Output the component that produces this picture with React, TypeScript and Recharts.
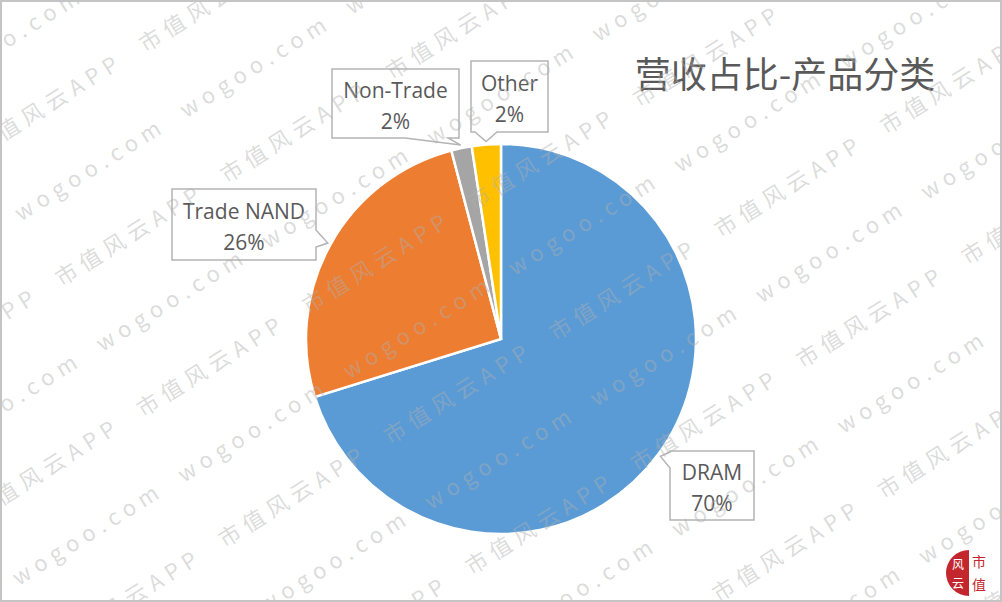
import React from "react";
import { PieChart, Pie, Cell } from "recharts";

// revenue share by product line (%)
const categories = ["DRAM", "Trade NAND", "Non-Trade", "Other"];
const shares = [70.2, 25.7, 1.7, 2.4];
const colors = ["#5B9BD5", "#ED7D31", "#A5A5A5", "#FFC000"];

const title = "营收占比-产品分类";
const watermarkTexts = ["wogoo.com", "市值风云APP"];

const W = 1002;
const H = 602;
const RADIAN = Math.PI / 180;

// callout boxes, offsets relative to the pie centre
const callouts = [
    { left: 169, top: 112, w: 84, h: 69, edge: "left", a: 1, b: 17 },
    { left: -329, top: -150, w: 144, h: 71, edge: "right", a: 41, b: 58 },
    { left: -169, top: -270, w: 127, h: 69, edge: "bottom", a: 73, b: 116 },
    { left: -30, top: -278, w: 77, h: 71, edge: "bottom", a: 4, b: 26 },
];

const data = categories.map((name, i) => ({ name, value: shares[i] }));

function calloutPath(x: number, y: number, w: number, h: number, edge: string, a: number, b: number, tx: number, ty: number) {
    const p: number[][] = [[x, y]];
    if (edge === "top") p.push([x + a, y], [tx, ty], [x + b, y]);
    p.push([x + w, y]);
    if (edge === "right") p.push([x + w, y + a], [tx, ty], [x + w, y + b]);
    p.push([x + w, y + h]);
    if (edge === "bottom") p.push([x + b, y + h], [tx, ty], [x + a, y + h]);
    p.push([x, y + h]);
    if (edge === "left") p.push([x, y + b], [tx, ty], [x, y + a]);
    return "M" + p.map((q) => q.join(",")).join("L") + "Z";
}

function renderCallout(props: any) {
    const { cx, cy, midAngle, outerRadius, index, percent, name } = props;
    const c = callouts[index];
    const r = outerRadius + 3;
    const tx = cx + r * Math.cos(-midAngle * RADIAN);
    const ty = cy + r * Math.sin(-midAngle * RADIAN);
    const x = cx + c.left;
    const y = cy + c.top;
    const mid = x + c.w / 2;
    const yc = y + c.h / 2;
    return (
        <g key={`lbl-${index}`}>
            <path
                d={calloutPath(x, y, c.w, c.h, c.edge, c.a, c.b, tx, ty)}
                fill="#fff"
                stroke="#b4b4b4"
                strokeWidth={1.5}
            />
            <text
                x={mid}
                y={yc - 6}
                textAnchor="middle"
                fill="#595959"
                fontSize={21}
                fontFamily="'Open Sans', 'Noto Sans', sans-serif"
            >
                {name}
            </text>
            <text
                x={mid}
                y={yc + 25}
                textAnchor="middle"
                fill="#595959"
                fontSize={21}
                fontFamily="'Open Sans', 'Noto Sans', sans-serif"
            >
                {Math.round(percent * 100)}%
            </text>
        </g>
    );
}

function Watermark() {
    const rows = [];
    for (let k = -1; k <= 14; k++) {
        const v = 35 + 77 * k;
        const txt = watermarkTexts[((k % 2) + 2) % 2];
        for (let m = -3; m <= 5; m++) {
            rows.push(
                <text
                    key={`${k}-${m}`}
                    x={95 + 195 * m}
                    y={v}
                    dominantBaseline="central"
                    fontSize={22}
                    letterSpacing={6}
                    fontFamily="'Noto Sans CJK SC', 'Noto Sans', sans-serif"
                    fill="rgba(175,175,175,0.45)"
                >
                    {txt}
                </text>
            );
        }
    }
    return <g transform="rotate(-32)">{rows}</g>;
}

export default function App() {
    return (
        <div style={{ position: "absolute", left: 0, top: 0, width: W, height: H, background: "#fff" }}>
            <PieChart width={W} height={H} margin={{ top: 0, right: 0, bottom: 0, left: 0 }}>
                <Pie
                    data={data}
                    dataKey="value"
                    nameKey="name"
                    cx={501}
                    cy={339}
                    outerRadius={195}
                    startAngle={90}
                    endAngle={-270}
                    stroke="#fff"
                    strokeWidth={2.5}
                    label={renderCallout}
                    labelLine={false}
                    isAnimationActive={false}
                >
                    {data.map((d, i) => (
                        <Cell key={d.name} fill={colors[i]} />
                    ))}
                </Pie>
            </PieChart>

            {/* title, watermark, logo and frame drawn on top */}
            <svg
                width={W}
                height={H}
                style={{ position: "absolute", left: 0, top: 0, pointerEvents: "none" }}
            >
                <text
                    x={785}
                    y={88}
                    textAnchor="middle"
                    fontSize={36}
                    fill="#595959"
                    fontFamily="'Noto Sans CJK SC', sans-serif"
                >
                    {title}
                </text>
                <Watermark />
                <path d="M969,550 A23,23 0 0 0 969,596 Z" fill="#C4262E" />
                <text x={958} y={569} textAnchor="middle" fontSize={12} fill="#fff" fontFamily="'Noto Sans CJK SC', sans-serif">风</text>
                <text x={958} y={588} textAnchor="middle" fontSize={12} fill="#fff" fontFamily="'Noto Sans CJK SC', sans-serif">云</text>
                <text x={979} y={567} textAnchor="middle" fontSize={14} fill="#C4262E" fontFamily="'Noto Sans CJK SC', sans-serif">市</text>
                <text x={979} y={590} textAnchor="middle" fontSize={14} fill="#C4262E" fontFamily="'Noto Sans CJK SC', sans-serif">值</text>
                <rect x={1} y={1} width={W - 2} height={H - 2} fill="none" stroke="#c4c4c4" strokeWidth={2} />
            </svg>
        </div>
    );
}
